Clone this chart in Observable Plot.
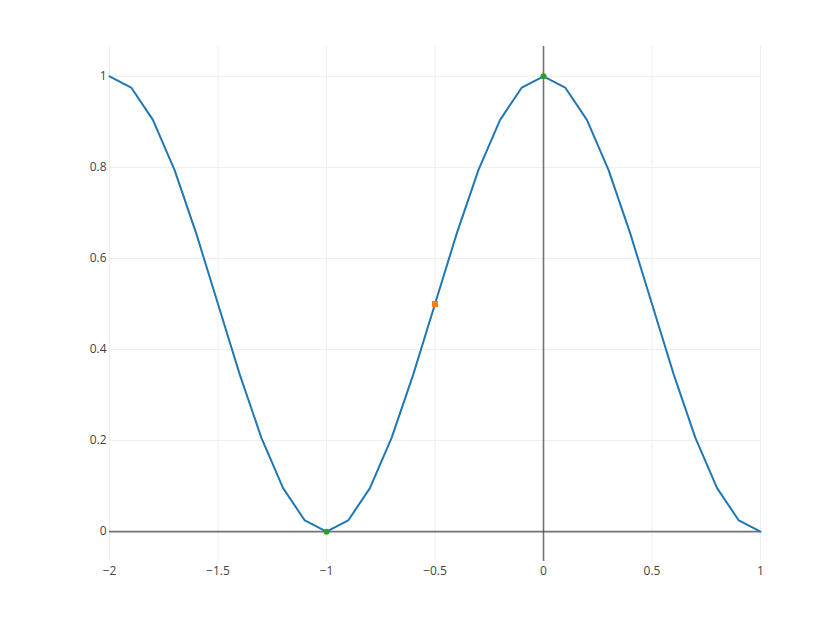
<!DOCTYPE html>
<html>
<head>
<meta charset="utf-8">
<script src="https://cdn.jsdelivr.net/npm/d3@7"></script>
<script src="https://cdn.jsdelivr.net/npm/@observablehq/plot@0.6"></script>
<style>
  html, body { margin: 0; padding: 0; background: #fff; }
  #chart { width: 840px; height: 630px; }
  svg { font-family: "Open Sans", sans-serif; }
</style>
</head>
<body>
<div id="chart"></div>
<script>
const xValues = [-2, -1.9, -1.8, -1.7, -1.6, -1.5, -1.4, -1.3, -1.2, -1.1, -1, -0.9, -0.8, -0.7, -0.6, -0.5, -0.4, -0.3, -0.2, -0.1, 0, 0.1, 0.2, 0.3, 0.4, 0.5, 0.6, 0.7, 0.8, 0.9, 1];
const yValues = [1, 0.9755, 0.9045, 0.7939, 0.6545, 0.5, 0.3455, 0.2061, 0.0955, 0.0245, 0, 0.0245, 0.0955, 0.2061, 0.3455, 0.5, 0.6545, 0.7939, 0.9045, 0.9755, 1, 0.9755, 0.9045, 0.7939, 0.6545, 0.5, 0.3455, 0.2061, 0.0955, 0.0245, 0];
const greenX = [-1, 0];
const greenY = [0, 1];
const orangeX = [-0.5];
const orangeY = [0.5];
const xTicks = [-2, -1.5, -1, -0.5, 0, 0.5, 1];
const yTicks = [0, 0.2, 0.4, 0.6, 0.8, 1];

const lineData = xValues.map((x, i) => ({x, y: yValues[i]}));
const greenData = greenX.map((x, i) => ({x, y: greenY[i]}));
const orangeData = orangeX.map((x, i) => ({x, y: orangeY[i]}));
const fmt = d => d < 0 ? "\u2212" + Math.abs(d) : String(d);

const chart = Plot.plot({
  width: 840,
  height: 630,
  marginLeft: 109,
  marginRight: 80,
  marginTop: 46,
  marginBottom: 69,
  style: {fontFamily: "'Open Sans', sans-serif", fontSize: "12px", color: "#444", background: "#fff"},
  x: {domain: [-2, 1], ticks: xTicks, tickFormat: fmt, label: null},
  y: {domain: [-0.0656, 1.0656], ticks: yTicks, tickFormat: fmt, label: null},
  marks: [
    Plot.gridX(xTicks.filter(d => d !== 0), {stroke: "#eee", strokeOpacity: 1, strokeWidth: 1}),
    Plot.gridY(yTicks.filter(d => d !== 0), {stroke: "#eee", strokeOpacity: 1, strokeWidth: 1}),
    Plot.ruleX([0], {stroke: "#444", strokeOpacity: 0.75, strokeWidth: 1.6}),
    Plot.ruleY([0], {stroke: "#444", strokeOpacity: 0.75, strokeWidth: 1.6}),
    Plot.axisX({ticks: xTicks, tickFormat: fmt, tickSize: 0, tickPadding: 5, fill: "#444", fontSize: 12, label: null}),
    Plot.axisY({ticks: yTicks, tickFormat: fmt, tickSize: 0, tickPadding: 3, fill: "#444", fontSize: 12, label: null}),
    Plot.line(lineData, {x: "x", y: "y", stroke: "#1f77b4", strokeWidth: 2}),
    Plot.dot(greenData, {x: "x", y: "y", r: 3, fill: "#2ca02c", stroke: "none"}),
    Plot.dot(orangeData, {x: "x", y: "y", symbol: "square", r: 3.4, fill: "#ff7f0e", stroke: "none"})
  ]
});
document.getElementById("chart").appendChild(chart);
</script>
</body>
</html>
